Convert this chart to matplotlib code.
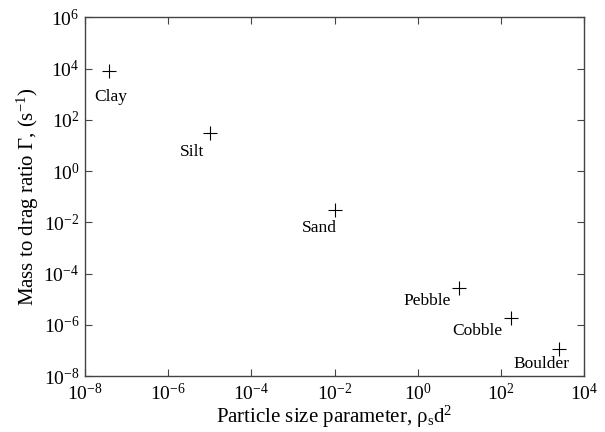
import matplotlib
matplotlib.use("Agg")
import matplotlib.pyplot as plt
from matplotlib.ticker import LogFormatterMathtext, NullLocator, FixedLocator

plt.rcParams['font.family'] = ['Liberation Serif', 'DejaVu Serif']
plt.rcParams['mathtext.fontset'] = 'custom'
plt.rcParams['mathtext.rm'] = 'Liberation Serif'
plt.rcParams['mathtext.it'] = 'Liberation Serif:italic'

categories = ["Clay", "Silt", "Sand", "Pebble", "Cobble", "Boulder"]
size_param = [3.8e-8, 1e-5, 1e-2, 10, 180, 2500]
mass_drag = [8e3, 30, 3e-2, 2.7e-5, 1.8e-6, 1.1e-7]
label_offsets = [(2, -26), (-18, -19), (-15, -18), (-32, -13), (-34, -13), (-18, -15)]
xticks = [10.0**k for k in range(-8, 5, 2)]
yticks = [10.0**k for k in range(-8, 7, 2)]

fig = plt.figure(figsize=(6.05, 4.32), dpi=100)
ax = fig.add_axes([85/605, 1-376/432, (584-85)/605, (376-17.5)/432])

ax.plot(size_param, mass_drag, linestyle='none', marker='+', color='black',
        markersize=10, markeredgewidth=0.8)
for name, x, y, off in zip(categories, size_param, mass_drag, label_offsets):
    ax.annotate(name, (x, y), xytext=off, textcoords='offset pixels',
                ha='center', va='center', fontsize=12.5)

ax.set_xscale('log')
ax.set_yscale('log')
ax.set_xlim(1e-8, 1e4)
ax.set_ylim(1e-8, 1e6)
ax.xaxis.set_major_locator(FixedLocator(xticks))
ax.yaxis.set_major_locator(FixedLocator(yticks))
ax.xaxis.set_major_formatter(LogFormatterMathtext())
ax.yaxis.set_major_formatter(LogFormatterMathtext())
ax.xaxis.set_minor_locator(NullLocator())
ax.yaxis.set_minor_locator(NullLocator())
ax.tick_params(which='major', direction='in', top=True, right=True, length=5,
               width=0.8, color='#444444', labelsize=14)
ax.tick_params(axis='x', pad=5)
ax.tick_params(axis='y', pad=4)
for s in ax.spines.values():
    s.set_color('#444444')
    s.set_linewidth(1.0)

ax.set_xlabel("Particle size parameter, ρ$_\\mathdefault{s}$d$^\\mathdefault{2}$", fontsize=15, labelpad=0)
ax.set_ylabel("Mass to drag ratio Γ, (s$^\\mathdefault{-1}$)", fontsize=15, labelpad=2)

fig.savefig("out.png", dpi=100)
